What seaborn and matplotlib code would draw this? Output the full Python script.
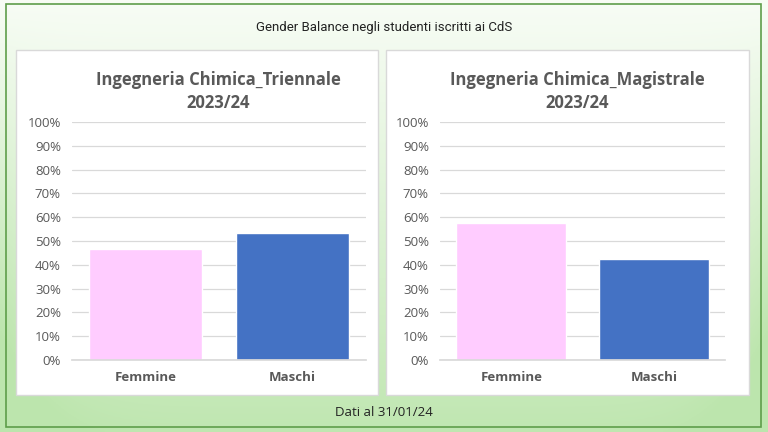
import numpy as np
import pandas as pd
import matplotlib
matplotlib.use("Agg")
import matplotlib.pyplot as plt
from matplotlib.patches import Rectangle
from matplotlib.ticker import PercentFormatter
import seaborn as sns

categories = ["Femmine", "Maschi"]
triennale = [46.6, 53.4]
magistrale = [57.6, 42.4]
bar_colors = ["#FFCCFF", "#4472C4"]
panel_titles = ["Ingegneria Chimica_Triennale\n2023/24", "Ingegneria Chimica_Magistrale\n2023/24"]
yticks = list(range(0, 101, 10))
header = "Gender Balance negli studenti iscritti ai CdS"
footer = "Dati al 31/01/24"

sns.set_theme(style="white")
plt.rcParams["font.family"] = ["Open Sans", "DejaVu Sans"]

W, H = 768, 432
fig = plt.figure(figsize=(W / 100, H / 100), dpi=100)

# background gradient
bg = fig.add_axes([0, 0, 1, 1], zorder=-10)
yy = np.linspace(0, 1, 200)[:, None]
xx = np.linspace(-1, 1, 300)[None, :]
top = np.array([0.97, 0.99, 0.96])
bot = np.array([0.74, 0.90, 0.68])
t = (yy ** 1.1) * 0.95 + (np.abs(xx) ** 8) * 0.35 * yy
t = np.clip(t, 0, 1)
img = top[None, None, :] * (1 - t[..., None]) + bot[None, None, :] * t[..., None]
bg.imshow(img, extent=[0, W, H, 0], origin="upper", aspect="auto")
bg.set_xlim(0, W)
bg.set_ylim(H, 0)
bg.axis("off")
bg.add_patch(Rectangle((6, 4), 755, 423, fill=False, ec="#5E9E4A", lw=1.2))
# white panels
for x0, x1 in [(16, 378), (386, 749)]:
    bg.add_patch(Rectangle((x0, 50), x1 - x0, 345, fc="white", ec="#D9D9D9", lw=1))
bg.text(W / 2, 28, header, ha="center", va="center", fontsize=9.5,
        family=["Roboto", "DejaVu Sans"], color="#222222")
bg.text(W / 2, 413, footer, ha="center", va="center", fontsize=9.5,
        family=["Open Sans", "DejaVu Sans"], color="#222222")

def px_axes(x0, x1, y_top, y_bot):
    return fig.add_axes([x0 / W, 1 - y_bot / H, (x1 - x0) / W, (y_bot - y_top) / H])

specs = [((72, 366), triennale, panel_titles[0], 218),
         ((440, 725), magistrale, panel_titles[1], 577)]

for (x0, x1), vals, title, tx in specs:
    ax = px_axes(x0, x1, 122, 360)
    df = pd.DataFrame({"cat": categories, "val": vals})
    sns.barplot(data=df, x="cat", y="val", hue="cat", palette=bar_colors,
                width=0.77, legend=False, ax=ax, saturation=1)
    ax.set_ylim(0, 100)
    ax.set_xlim(-0.5, 1.5)
    ax.set_yticks(yticks)
    ax.yaxis.set_major_formatter(PercentFormatter(decimals=0))
    ax.grid(axis="y", color="#D9D9D9", lw=0.9)
    ax.set_axisbelow(True)
    for s in ax.spines.values():
        s.set_visible(False)
    ax.spines["bottom"].set_visible(True)
    ax.spines["bottom"].set_color("#D9D9D9")
    ax.set_xlabel("")
    ax.set_ylabel("")
    ax.set_facecolor("none")
    ax.tick_params(axis="y", labelsize=9.5, colors="#595959", length=0, pad=8)
    ax.tick_params(axis="x", labelsize=9.5, colors="#595959", length=0, pad=8)
    for lab in ax.get_xticklabels():
        lab.set_fontweight("bold")
    bg.text(tx, 91.5, title, ha="center", va="center", fontsize=12,
            fontweight="bold", color="#595959", linespacing=1.4)

fig.savefig("out.png", dpi=100)
